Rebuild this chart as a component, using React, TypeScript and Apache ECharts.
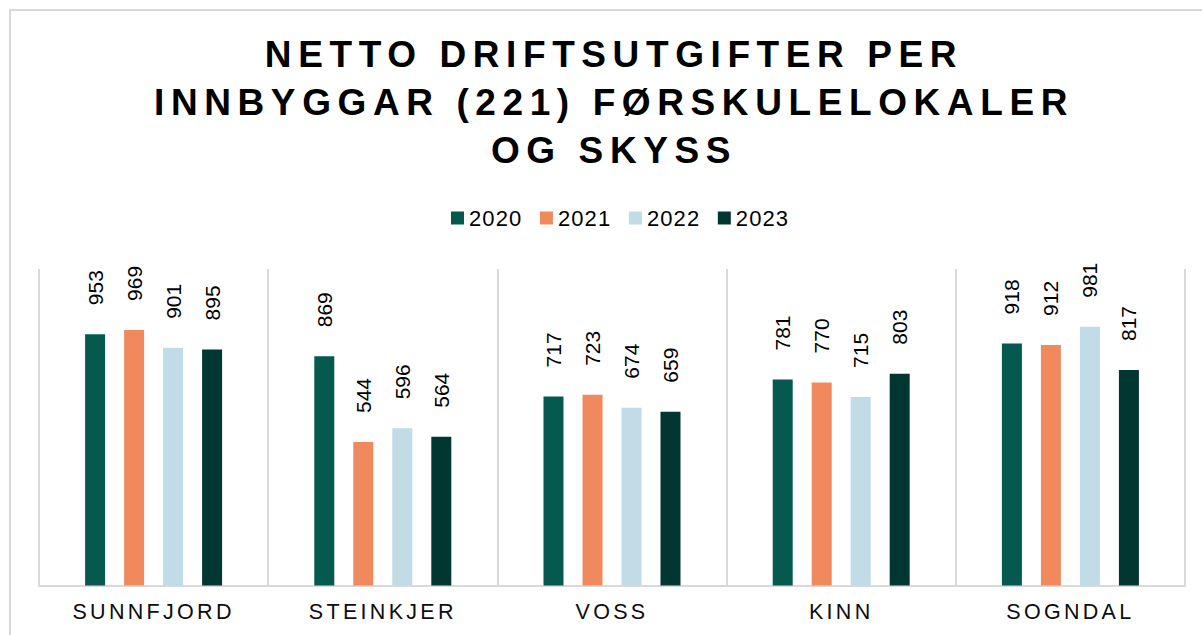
import React, { useEffect, useRef } from 'react';
import * as echarts from 'echarts';

const categories = ['SUNNFJORD', 'STEINKJER', 'VOSS', 'KINN', 'SOGNDAL'];
const years = ['2020', '2021', '2022', '2023'];
const values2020 = [953, 869, 717, 781, 918];
const values2021 = [969, 544, 723, 770, 912];
const values2022 = [901, 596, 674, 715, 981];
const values2023 = [895, 564, 659, 803, 817];
const seriesValues = [values2020, values2021, values2022, values2023];
const colors = ['#05594F', '#F0895E', '#C1DBE7', '#023631'];
const titleLines = ['NETTO DRIFTSUTGIFTER PER', 'INNBYGGAR (221) FØRSKULELOKALER', 'OG SKYSS'];

const FONT = "Arial, 'Liberation Sans', sans-serif";

export default function App() {
  const ref = useRef<HTMLDivElement>(null);
  useEffect(() => {
    if (!ref.current) return;
    const chart = echarts.init(ref.current, undefined, { renderer: 'svg' });
    chart.setOption({
      animation: false,
      backgroundColor: '#ffffff',
      textStyle: { fontFamily: FONT },
      graphic: [
        {
          type: 'rect',
          silent: true,
          z: -1,
          shape: { x: 10, y: 10, width: 1400, height: 900 },
          style: { fill: 'none', stroke: '#d9d9d9', lineWidth: 2 },
        },
        {
          type: 'text',
          x: 614,
          y: 31,
          style: {
            text: titleLines.join('\n'),
            fill: '#000000',
            fontSize: 37,
            fontWeight: 'bold',
            fontFamily: FONT,
            align: 'center',
            textAlign: 'center',
            verticalAlign: 'top',
            lineHeight: 47.7,
          },
        },
      ],
      legend: {
        data: years,
        left: 446,
        top: 202,
        itemWidth: 13,
        itemHeight: 13,
        itemGap: 22,
        icon: 'rect',
        textStyle: { fontSize: 22, color: '#000000', fontFamily: FONT },
      },
      grid: { left: 39, right: 17, top: 269, bottom: 49.5, containLabel: false },
      xAxis: {
        type: 'category',
        data: categories,
        axisLine: { show: true, lineStyle: { color: '#d9d9d9', width: 2 } },
        axisTick: { show: false },
        splitLine: { show: true, interval: 0, lineStyle: { color: '#d9d9d9', width: 2 } },
        axisLabel: { fontSize: 21.5, color: '#0d0d0d', margin: 15, interval: 0, fontFamily: FONT },
      },
      yAxis: {
        type: 'value',
        min: 0,
        max: 1200,
        show: false,
        splitLine: { show: false },
      },
      series: seriesValues.map((data, i) => ({
        name: years[i],
        type: 'bar',
        data,
        barWidth: 20,
        barGap: '95%',
        itemStyle: { color: colors[i] },
        label: {
          show: true,
          position: 'top',
          distance: 29,
          rotate: 90,
          align: 'left',
          verticalAlign: 'middle',
          fontSize: 21,
          color: '#000000',
          fontFamily: FONT,
        },
      })),
    });
    return () => chart.dispose();
  }, []);
  return (
    <>
      <style>{`text[style*="37px"]{letter-spacing:6.6px}text[style*="21.5px"]{letter-spacing:3.3px}text[style*="22px"]{letter-spacing:1.1px}`}</style>
      <div
        ref={ref}
        style={{ position: 'fixed', left: 0, top: 0, width: 1202, height: 635, background: '#fff' }}
      />
    </>
  );
}
